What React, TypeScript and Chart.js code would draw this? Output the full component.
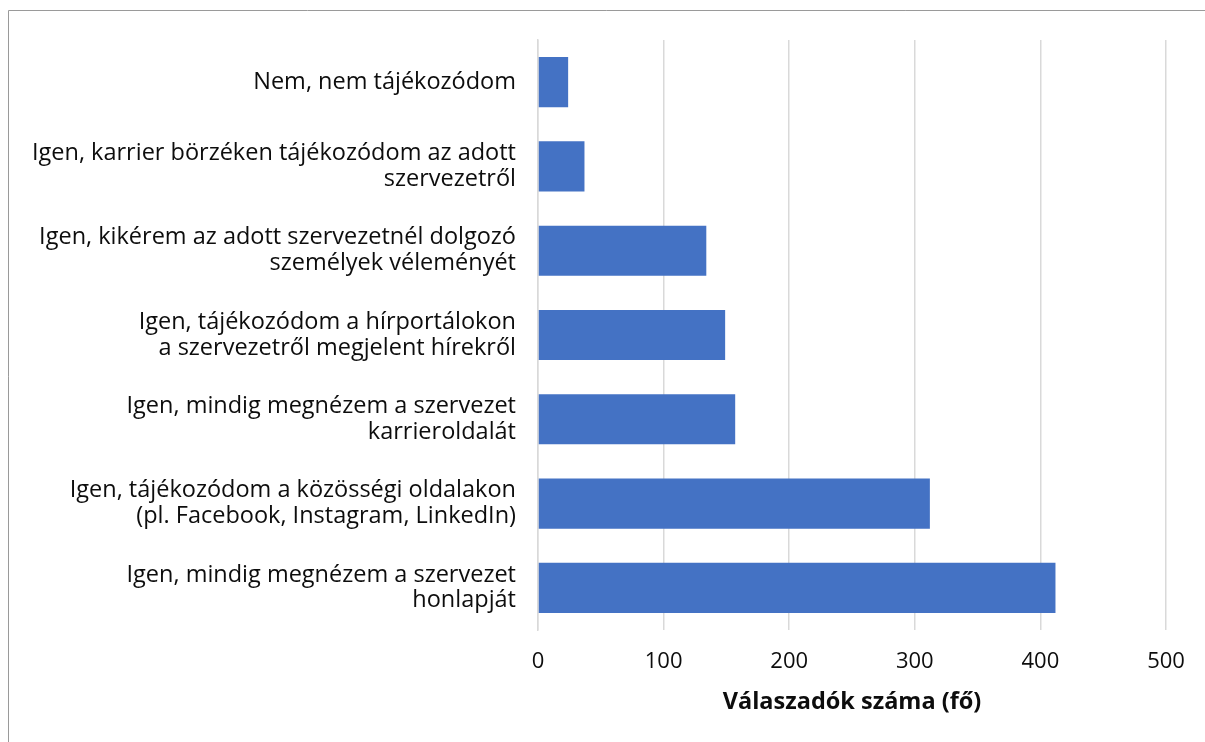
import React, { useEffect, useRef } from "react";
import { Chart, registerables } from "chart.js";

Chart.register(...registerables);

const categories: string[][] = [
  ["Nem, nem tájékozódom"],
  ["Igen, karrier börzéken tájékozódom az adott", "szervezetről"],
  ["Igen, kikérem az adott szervezetnél dolgozó", "személyek véleményét"],
  ["Igen, tájékozódom a hírportálokon", "a szervezetről megjelent hírekről"],
  ["Igen, mindig megnézem a szervezet", "karrieroldalát"],
  ["Igen, tájékozódom a közösségi oldalakon", "(pl. Facebook, Instagram, LinkedIn)"],
  ["Igen, mindig megnézem a szervezet", "honlapját"],
];

const responses: number[] = [24, 37, 134, 149, 157, 312, 412];

const xTicks: number[] = [0, 100, 200, 300, 400, 500];
const xTitle = "Válaszadók száma (fő)";

const FONT = "'Open Sans', 'Noto Sans', sans-serif";

const framePlugin = {
  id: "frame",
  beforeDraw(chart: any) {
    const ctx = chart.ctx;
    ctx.save();
    ctx.fillStyle = "#ffffff";
    ctx.fillRect(0, 0, chart.width, chart.height);
    ctx.strokeStyle = "#9a9a9a";
    ctx.lineWidth = 1;
    ctx.beginPath();
    ctx.moveTo(8.5, chart.height);
    ctx.lineTo(8.5, 10.5);
    ctx.lineTo(chart.width, 10.5);
    ctx.stroke();
    ctx.restore();
  },
};

export default function App() {
  const canvasRef = useRef<HTMLCanvasElement | null>(null);

  useEffect(() => {
    if (!canvasRef.current) return;
    const chart = new Chart(canvasRef.current, {
      type: "bar",
      data: {
        labels: categories,
        datasets: [
          {
            data: responses,
            backgroundColor: "#4472C4",
            borderWidth: 0,
            categoryPercentage: 1,
            barPercentage: 0.595,
          },
        ],
      },
      options: {
        indexAxis: "y",
        animation: false,
        responsive: false,
        maintainAspectRatio: false,
        layout: { padding: { top: 40, right: 39, bottom: 26, left: 0 } },
        plugins: {
          legend: { display: false },
          tooltip: { enabled: false },
        },
        scales: {
          x: {
            min: 0,
            max: 500,
            afterBuildTicks: (scale: any) => {
              scale.ticks = xTicks.map((v) => ({ value: v }));
            },
            afterFit: (scale: any) => {
              scale.paddingLeft = 0;
              scale.paddingRight = 0;
              scale.height = 86;
            },
            grid: {
              color: "#d9d9d9",
              lineWidth: 1.5,
              drawTicks: false,
            },
            border: { display: false },
            ticks: {
              color: "#0d0d0d",
              font: { family: FONT, size: 22, lineHeight: 1.2 },
              padding: 19,
            },
            title: {
              display: true,
              text: xTitle,
              color: "#0d0d0d",
              font: { family: FONT, size: 23.5, weight: "bold", lineHeight: 1.2 },
              padding: { top: 10, bottom: 0 },
            },
          },
          y: {
            afterFit: (scale: any) => {
              scale.width = 538;
              scale.paddingTop = 0;
              scale.paddingBottom = 0;
            },
            grid: { display: false, drawTicks: false },
            border: { display: true, color: "#d9d9d9", width: 1.5 },
            ticks: {
              color: "#0d0d0d",
              font: { family: FONT, size: 23.5, lineHeight: 1.1 },
              padding: 22,
              autoSkip: false,
            },
          },
        },
      },
      plugins: [framePlugin],
    });
    return () => chart.destroy();
  }, []);

  return (
    <div style={{ position: "fixed", left: 0, top: 0, width: 1205, height: 742 }}>
      <canvas ref={canvasRef} width={1205} height={742} style={{ width: 1205, height: 742, display: "block" }} />
    </div>
  );
}
